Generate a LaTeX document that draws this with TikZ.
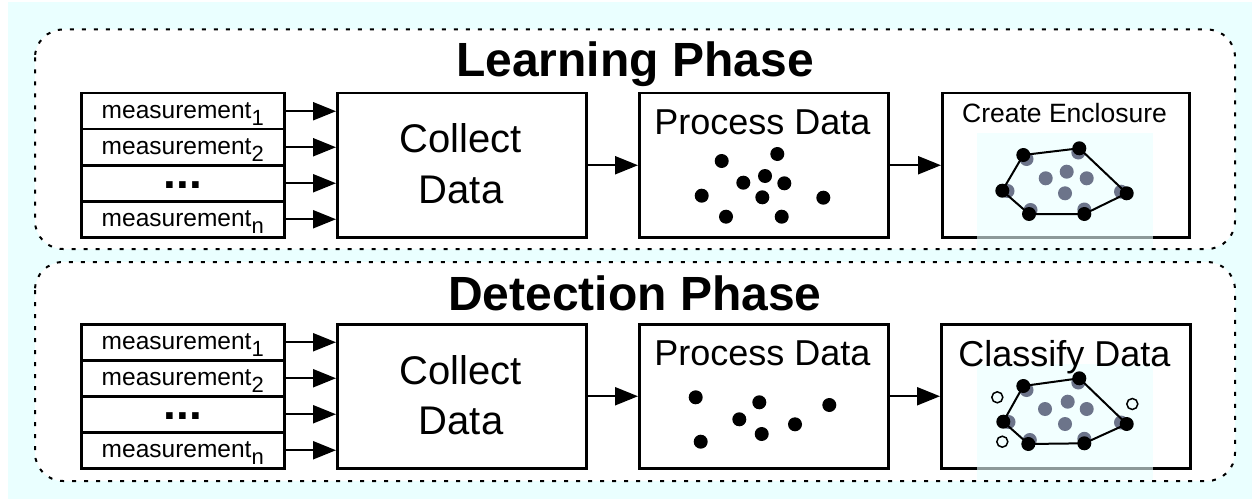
\documentclass[tikz,border=0pt]{standalone}
\usepackage{fontspec}
\setmainfont{Liberation Sans}
\usetikzlibrary{arrows.meta}

\definecolor{paleCyan}{RGB}{234,255,255}
\definecolor{dotGray}{RGB}{108,116,138}

\newcommand{\setfs}[1]{\fontsize{#1}{#1}\selectfont}
\newcommand{\meas}[1]{measurement\raisebox{-7pt}{\setfs{22}#1}}

\tikzset{
  phaseframe/.style={draw, line width=2pt, dash pattern=on 4pt off 8pt, rounded corners=28pt},
  wall/.style={draw, line width=2.5pt, fill=white, inner sep=0pt, anchor=north west},
  bigbox/.style={wall, minimum width=249pt, minimum height=144pt},
  mrow/.style={wall, minimum width=203pt, minimum height=36pt,
               text height=25pt, text depth=11pt, font=\setfs{24.5}},
  ellip/.style={font=\setfs{46}\bfseries, text height=23pt, text depth=13pt},
  phasetitle/.style={anchor=base, inner sep=0pt, font=\setfs{48}\bfseries},
  boxtext/.style={anchor=base, inner sep=0pt},
  feed/.style={line width=2.2pt, -{Triangle[length=23pt,width=18pt]}},
  dot/.style={circle, fill=black, inner sep=0pt, minimum size=14pt},
  gdot/.style={dot, fill=dotGray},
  odot/.style={circle, draw, line width=1.5pt, inner sep=0pt, minimum size=11pt},
  hull/.style={line width=2pt},
  veil/.style={fill=paleCyan, fill opacity=0.6}
}

\begin{document}
\begin{tikzpicture}[x=1pt,y=-1pt]
\useasboundingbox (0,0) rectangle (1252,500);
\fill[paleCyan] (8,2) rectangle (1252,499);

% white interiors of the two phase frames
\path[fill=white, rounded corners=28pt] (35,29.5) rectangle (1235,249);
\path[fill=white, rounded corners=28pt] (35,262) rectangle (1235,481);

% ---------------- Learning phase ----------------
\node[phasetitle] (ltitle) at (635,77) {Learning Phase};

\node[mrow] (lm1) at (80,92)  {\meas{1}};
\node[mrow] (lm2) at (80,128) {\meas{2}};
\node[mrow, ellip] (lm3) at (80,164) {...};
\node[mrow] (lm4) at (80,200) {\meas{n}};

\node[bigbox] (lcol) at (336,92) {};
\node[boxtext, font=\setfs{40}] (lcolA) at (461,153) {Collect};
\node[boxtext, font=\setfs{40}] (lcolB) at (461,203) {Data};

\node[bigbox] (lproc) at (638,92) {};
\node[boxtext, font=\setfs{36}] (lprocT) at (762.5,135) {Process Data};

\node[wall, minimum width=247pt, minimum height=144pt] (lenc) at (941,92) {};
\node[boxtext, font=\setfs{26.5}] (lencT) at (1064.5,123) {Create Enclosure};

\foreach \r in {1,...,4}
  \draw[feed] (lm\r.east) -- (lm\r.east -| lcol.west);
\draw[feed] (lcol.east) -- (lproc.west);
\draw[feed] (lproc.east) -- (lenc.west);

% scattered measurements
\foreach \p [count=\i] in {(721.7,161),(777.3,154),(765,176),(743.3,182.7),(784.3,183.3),
                            (701.7,195.7),(762.3,197.3),(823.3,197.7),(726,216.7),(781.7,216.7)}
  \node[dot] (lpt\i) at \p {};

% enclosure around the learned points
\fill[veil] (977,133) rectangle (1153,249);
\coordinate (la) at (1023.3,155);
\coordinate (lb) at (1079.3,148.3);
\coordinate (lc) at (1126.7,193.3);
\coordinate (ld) at (1084.3,214);
\coordinate (le) at (1029,214);
\coordinate (lf) at (1002.3,190.7);
\foreach \p [count=\i] in {(1026.5,159),(1078.3,152.5),(1121,191.7),(1084.3,209.5),(1030.5,210),(1007.5,191)}
  \node[gdot] (lh\i) at \p {};
\draw[hull] (la) -- (lb) -- (lc) -- (ld) -- (le) -- (lf) -- cycle;
\foreach \v in {la,lb,lc,ld,le,lf}
  \node[dot] (lv\v) at (\v) {};
\foreach \p [count=\i] in {(1066.7,171.7),(1045.7,178.3),(1086.7,178.3),(1065,193.3)}
  \node[gdot] (lg\i) at \p {};

% ---------------- Detection phase ----------------
\node[phasetitle] (dtitle) at (635,310) {Detection Phase};

\node[mrow] (dm1) at (80,323) {\meas{1}};
\node[mrow] (dm2) at (80,359) {\meas{2}};
\node[mrow, ellip] (dm3) at (80,395) {...};
\node[mrow] (dm4) at (80,431) {\meas{n}};

\node[bigbox] (dcol) at (336,323) {};
\node[boxtext, font=\setfs{40}] (dcolA) at (461,384) {Collect};
\node[boxtext, font=\setfs{40}] (dcolB) at (461,434) {Data};

\node[bigbox] (dproc) at (638,323) {};
\node[boxtext, font=\setfs{36}] (dprocT) at (762.5,365) {Process Data};

\node[bigbox] (dcls) at (940,323) {};

\foreach \r in {1,...,4}
  \draw[feed] (dm\r.east) -- (dm\r.east -| dcol.west);
\draw[feed] (dcol.east) -- (dproc.west);
\draw[feed] (dproc.east) -- (dcls.west);

% new measurements
\foreach \p [count=\i] in {(695.7,397.3),(759.3,402.3),(829.3,405),(739.3,419.3),
                            (795,424.3),(761.7,434),(700.7,441.7)}
  \node[dot] (dpt\i) at \p {};

% classification against the enclosure
\fill[veil] (977,364) rectangle (1153,480);
\node[boxtext, font=\setfs{36}] (dclsT) at (1064.5,366) {Classify Data};
\coordinate (da) at (1023.3,386);
\coordinate (db) at (1079.3,378.3);
\coordinate (dc) at (1126.7,424);
\coordinate (dd) at (1084.3,443.3);
\coordinate (de) at (1028.3,444);
\coordinate (df) at (1003.3,421.7);
\foreach \p [count=\i] in {(1026.5,390),(1078.3,382.5),(1121,422.5),(1084.3,438.8),(1029.8,440),(1008.5,422)}
  \node[gdot] (dh\i) at \p {};
\draw[hull] (da) -- (db) -- (dc) -- (dd) -- (de) -- (df) -- cycle;
\foreach \v in {da,db,dc,dd,de,df}
  \node[dot] (dv\v) at (\v) {};
\foreach \p [count=\i] in {(1067.7,401.7),(1045,409),(1086.7,409),(1065,424)}
  \node[gdot] (dg\i) at \p {};
\foreach \p [count=\i] in {(997.3,397.3),(1132.3,404),(1002.3,441.7)}
  \node[odot] (dout\i) at \p {};

% dashed phase outlines on top
\draw[phaseframe] (35,29.5) rectangle (1235,249);
\draw[phaseframe] (35,262) rectangle (1235,481);
\end{tikzpicture}
\end{document}
